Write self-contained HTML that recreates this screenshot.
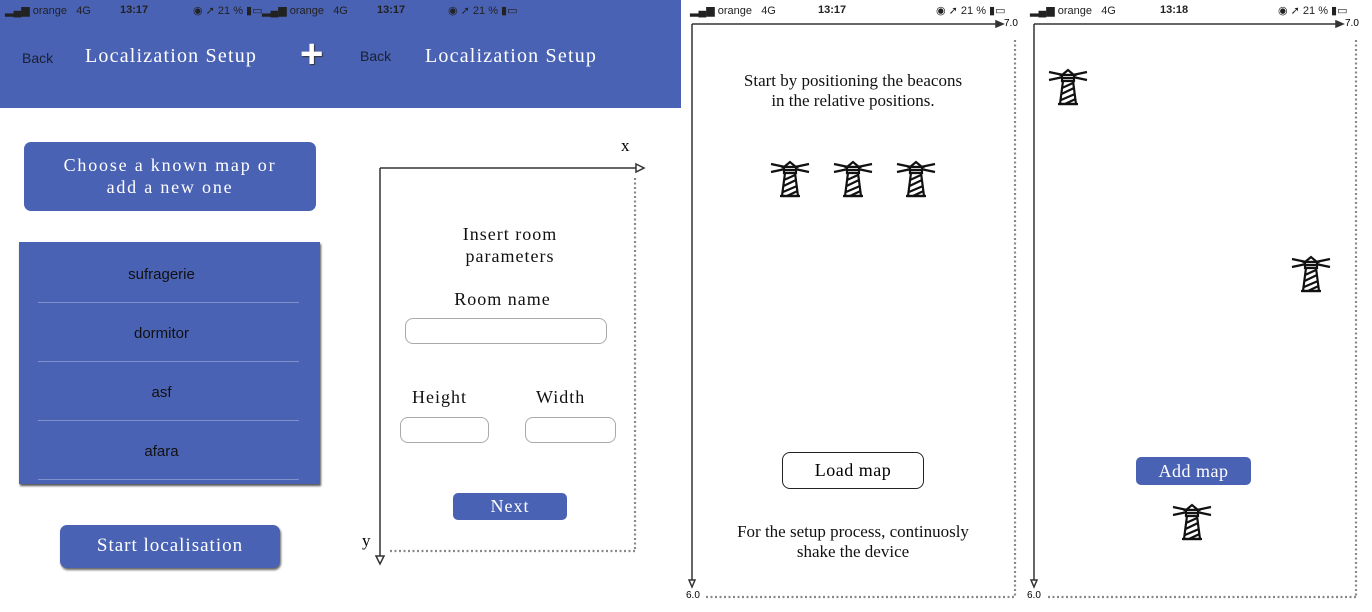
<!DOCTYPE html>
<html><head><style>
body{margin:0;width:1372px;height:612px;background:#fff;overflow:hidden;position:relative;font-family:"Liberation Sans",sans-serif}
.a{position:absolute}
.serif{font-family:"Liberation Serif",serif}
.btn{position:absolute;background:#4a62b3;color:#fff;border-radius:7px;text-align:center;font-family:"Liberation Serif",serif;letter-spacing:1px}
.sb{position:absolute;top:4px;font-size:11px;color:#222}
.in{position:absolute;border:1px solid #aaa;border-radius:8px;background:#fff}
</style></head><body>
<div class="a" style="left:0;top:0;width:681px;height:108px;background:#4a62b3"></div>
<!-- status bars -->
<div class="sb" style="left:5px">▂▄▆ orange&nbsp;&nbsp; 4G</div>
<div class="sb" style="left:120px;font-weight:bold">13:17</div>
<div class="sb" style="left:193px">◉ ➚ 21 % ▮▭</div>
<div class="sb" style="left:262px">▂▄▆ orange&nbsp;&nbsp; 4G</div>
<div class="sb" style="left:377px;font-weight:bold">13:17</div>
<div class="sb" style="left:448px">◉ ➚ 21 % ▮▭</div>
<div class="sb" style="left:690px">▂▄▆ orange&nbsp;&nbsp; 4G</div>
<div class="sb" style="left:818px;font-weight:bold">13:17</div>
<div class="sb" style="left:936px">◉ ➚ 21 % ▮▭</div>
<div class="sb" style="left:1030px">▂▄▆ orange&nbsp;&nbsp; 4G</div>
<div class="sb" style="left:1160px;font-weight:bold">13:18</div>
<div class="sb" style="left:1278px">◉ ➚ 21 % ▮▭</div>
<!-- headers -->
<div class="a" style="left:22px;top:50px;font-size:14px;color:#1a1f33">Back</div>
<div class="a serif" style="left:85px;top:45px;font-size:20px;color:#fff;letter-spacing:1.2px">Localization Setup</div>
<div class="a" style="left:300px;top:32px;font-size:40px;color:#fff;font-weight:bold;text-shadow:1px 1px 1px #333">+</div>
<div class="a" style="left:360px;top:48px;font-size:14px;color:#1a1f33">Back</div>
<div class="a serif" style="left:425px;top:45px;font-size:20px;color:#fff;letter-spacing:1.2px">Localization Setup</div>
<!-- left panel -->
<div class="btn" style="left:24px;top:142px;width:292px;height:69px;font-size:18px;line-height:22px;padding-top:12px;box-sizing:border-box;letter-spacing:1.8px">Choose a known map or<br>add a new one</div>
<div class="a" style="left:19px;top:242px;width:301px;height:242px;background:#4a62b3;box-shadow:1px 2px 2px #555"></div>
<div class="a" style="left:11px;top:266px;width:301px;text-align:center;font-size:15px;color:#111">sufragerie</div>
<div class="a" style="left:11px;top:325px;width:301px;text-align:center;font-size:15px;color:#111">dormitor</div>
<div class="a" style="left:11px;top:384px;width:301px;text-align:center;font-size:15px;color:#111">asf</div>
<div class="a" style="left:11px;top:443px;width:301px;text-align:center;font-size:15px;color:#111">afara</div>
<div class="a" style="left:38px;top:302px;width:261px;height:1px;background:#8090cc"></div>
<div class="a" style="left:38px;top:361px;width:261px;height:1px;background:#8090cc"></div>
<div class="a" style="left:38px;top:420px;width:261px;height:1px;background:#8090cc"></div>
<div class="a" style="left:38px;top:479px;width:261px;height:1px;background:#8090cc"></div>
<div class="btn" style="left:60px;top:525px;width:220px;height:43px;font-size:19px;line-height:41px;box-shadow:1px 2px 2px #666">Start localisation</div>
<!-- middle form -->
<div class="a serif" style="left:400px;top:223px;width:220px;text-align:center;font-size:18px;line-height:22px;letter-spacing:1px;color:#111">Insert room<br>parameters</div>
<div class="a serif" style="left:396px;top:289px;width:213px;text-align:center;font-size:18px;letter-spacing:1px;color:#111">Room name</div>
<div class="in" style="left:405px;top:318px;width:200px;height:24px"></div>
<div class="a serif" style="left:412px;top:387px;font-size:18px;letter-spacing:1px;color:#111">Height</div>
<div class="a serif" style="left:536px;top:387px;font-size:18px;letter-spacing:1px;color:#111">Width</div>
<div class="in" style="left:400px;top:417px;width:87px;height:24px"></div>
<div class="in" style="left:525px;top:417px;width:89px;height:24px"></div>
<div class="btn" style="left:453px;top:493px;width:114px;height:27px;font-size:18px;line-height:27px;border-radius:5px">Next</div>
<div class="a serif" style="left:621px;top:136px;font-size:17px">x</div>
<div class="a serif" style="left:362px;top:531px;font-size:17px">y</div>
<!-- panel 3 text -->
<div class="a serif" style="left:700px;top:71px;width:306px;text-align:center;font-size:17px;line-height:20px;color:#111">Start by positioning the beacons<br>in the relative positions.</div>
<div class="a serif" style="left:782px;top:452px;width:140px;height:35px;border:1px solid #222;border-radius:8px;text-align:center;font-size:18px;line-height:35px;letter-spacing:0.5px">Load map</div>
<div class="a serif" style="left:694px;top:522px;width:318px;text-align:center;font-size:17px;line-height:20px;color:#111">For the setup process, continuosly<br>shake the device</div>
<div class="btn" style="left:1136px;top:457px;width:115px;height:28px;font-size:18px;line-height:28px;border-radius:5px;letter-spacing:0.5px">Add map</div>
<div class="a" style="left:1004px;top:18px;font-size:10px">7.0</div>
<div class="a" style="left:1345px;top:18px;font-size:10px">7.0</div>
<div class="a" style="left:686px;top:590px;font-size:10px">6.0</div>
<div class="a" style="left:1027px;top:590px;font-size:10px">6.0</div>
<svg class="a" style="left:0;top:0" width="1372" height="612">
<defs>
<g id="lh" stroke="#111" fill="none" stroke-width="2.2">
<line x1="1" y1="4" x2="39" y2="12"/><line x1="1" y1="12" x2="39" y2="4"/>
<path d="M14 7 L20 2 L26 7 Z" fill="#fff"/>
<rect x="14" y="7" width="12" height="6" fill="#fff"/>
<line x1="14" y1="10" x2="26" y2="10"/>
<path d="M15 13 L12 36 L28 36 L25 13 Z" fill="#fff"/>
<line x1="14" y1="20" x2="25" y2="15"/><line x1="13.5" y1="26" x2="26" y2="20"/><line x1="13" y1="32" x2="27" y2="26"/><line x1="17" y1="36" x2="27.5" y2="31"/>
<line x1="10" y1="36" x2="30" y2="36"/>
</g>
</defs>
<g stroke="#333" stroke-width="1.5" fill="#333">
<line x1="380" y1="168" x2="638" y2="168"/><path d="M636 164 L644 168 L636 172 Z" fill="#fff"/>
<line x1="380" y1="168" x2="380" y2="558"/><path d="M376 556 L380 564 L384 556 Z" fill="#fff"/>
<line x1="692" y1="24" x2="998" y2="24"/><path d="M996 21 L1003 24 L996 27 Z"/>
<line x1="692" y1="24" x2="692" y2="582"/><path d="M689 580 L692 587 L695 580 Z" fill="#fff"/>
<line x1="1034" y1="24" x2="1338" y2="24"/><path d="M1336 21 L1343 24 L1336 27 Z"/>
<line x1="1034" y1="24" x2="1034" y2="582"/><path d="M1031 580 L1034 587 L1037 580 Z" fill="#fff"/>
</g>
<g stroke="#888" stroke-width="2.2" stroke-dasharray="2 2.5" fill="none">
<line x1="635" y1="178" x2="635" y2="551"/><line x1="390" y1="551" x2="635" y2="551"/>
<line x1="1015" y1="40" x2="1015" y2="597"/><line x1="706" y1="597" x2="1015" y2="597"/>
<line x1="1356" y1="40" x2="1356" y2="597"/><line x1="1048" y1="597" x2="1356" y2="597"/>
</g>
<use href="#lh" x="770" y="160"/><use href="#lh" x="833" y="160"/><use href="#lh" x="896" y="160"/>
<use href="#lh" x="1048" y="68"/><use href="#lh" x="1291" y="255"/><use href="#lh" x="1172" y="503"/>
</svg>
</body></html>
